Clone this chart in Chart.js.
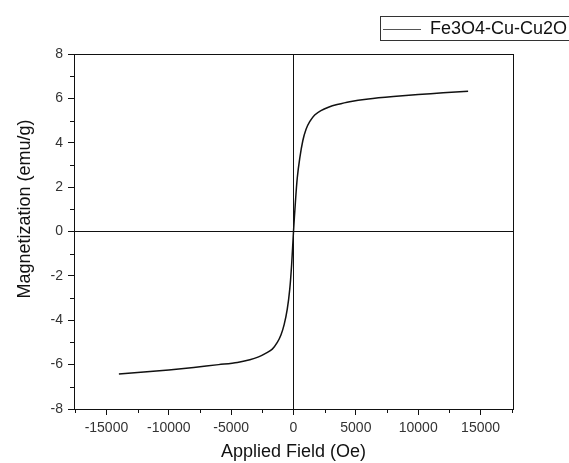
<!DOCTYPE html>
<html>
<head>
<meta charset="utf-8">
<script src="https://cdn.jsdelivr.net/npm/chart.js@4"></script>
<style>
  html, body { margin: 0; padding: 0; background: #fff; }
  #wrap { width: 569px; height: 463px; position: relative; }
</style>
</head>
<body>
<div id="wrap"><canvas id="chart"></canvas></div>
<script>
// Hysteresis loop data
const fieldOe = [-14000, -12000, -10000, -8000, -6000, -4500, -3500, -2800, -2200, -1700, -1300, -1000, -750, -500, -300, -150, 0,
                 150, 300, 500, 750, 1000, 1300, 1700, 2200, 2800, 3500, 4500, 6000, 8000, 10000, 12000, 14000];
const magnetization = [-6.42, -6.33, -6.24, -6.13, -6.0, -5.9, -5.78, -5.65, -5.48, -5.3, -5.0, -4.65, -4.2, -3.5, -2.6, -1.5, 0.0,
                       1.3, 2.4, 3.3, 4.1, 4.6, 4.95, 5.25, 5.45, 5.6, 5.72, 5.85, 5.97, 6.08, 6.17, 6.25, 6.32];
const xTicks = [-15000, -10000, -5000, 0, 5000, 10000, 15000];
const yTicks = [-8, -6, -4, -2, 0, 2, 4, 6, 8];
const seriesName = 'Fe3O4-Cu-Cu2O';

const FONT = '"Liberation Sans", Arial, sans-serif';

// Frame around plot, minor ticks, y title and the boxed legend
const framePlugin = {
    id: 'frame',
    afterDraw(chart) {
        const ctx = chart.ctx;
        const a = chart.chartArea;
        const xs = chart.scales.x;
        const ys = chart.scales.y;
        ctx.save();
        ctx.strokeStyle = '#111';
        ctx.lineWidth = 1;
        ctx.strokeRect(a.left + 0.5, a.top + 0.5, a.right - a.left, a.bottom - a.top);

        // minor ticks
        ctx.beginPath();
        for (let v = -17500; v <= 17500; v += 2500) {
            if (v % 5000 === 0) continue;
            const px = Math.round(xs.getPixelForValue(v)) + 0.5;
            ctx.moveTo(px, a.bottom);
            ctx.lineTo(px, a.bottom + 4);
        }
        for (let v = -7; v <= 7; v += 2) {
            const py = Math.round(ys.getPixelForValue(v)) + 0.5;
            ctx.moveTo(a.left, py);
            ctx.lineTo(a.left - 4, py);
        }
        ctx.stroke();

        // y axis title (sits a bit above the plot centre in the original)
        ctx.save();
        ctx.translate(25, 209);
        ctx.rotate(-Math.PI / 2);
        ctx.fillStyle = '#111';
        ctx.font = '18px ' + FONT;
        ctx.textAlign = 'center';
        ctx.textBaseline = 'middle';
        ctx.fillText('Magnetization (emu/g)', 0, 0);
        ctx.restore();

        // legend box
        ctx.strokeStyle = '#333';
        ctx.strokeRect(380.5, 16.5, 200, 24);
        ctx.strokeStyle = '#555';
        ctx.beginPath();
        ctx.moveTo(383, 29.5);
        ctx.lineTo(421, 29.5);
        ctx.stroke();
        ctx.fillStyle = '#111';
        ctx.font = '18px ' + FONT;
        ctx.textBaseline = 'middle';
        ctx.fillText(chart.data.datasets[0].label, 430, 29);
        ctx.restore();
    }
};

const chart = new Chart(document.getElementById('chart'), {
    type: 'scatter',
    data: {
        datasets: [{
            label: seriesName,
            data: fieldOe.map((f, i) => ({ x: f, y: magnetization[i] })),
            showLine: true,
            borderColor: '#111',
            borderWidth: 1.5,
            pointRadius: 0,
            tension: 0.3
        }]
    },
    options: {
        responsive: true,
        maintainAspectRatio: false,
        animation: false,
        layout: { padding: { top: 54, right: 56, left: 0, bottom: 0 } },
        plugins: {
            legend: { display: false },
            tooltip: { enabled: false }
        },
        scales: {
            x: {
                type: 'linear',
                min: -17600,
                max: 17600,
                afterBuildTicks: s => { s.ticks = xTicks.map(v => ({ value: v })); },
                afterFit: s => { s.height = 54; },
                border: { display: true, color: '#111', width: 1 },
                grid: {
                    drawOnChartArea: true,
                    color: c => (c.tick && c.tick.value === 0 ? '#111' : 'rgba(0,0,0,0)'),
                    tickColor: '#111',
                    tickLength: 6,
                    lineWidth: 1
                },
                ticks: {
                    color: '#333',
                    font: { family: FONT, size: 14 },
                    padding: 5,
                    maxRotation: 0,
                    callback: v => String(v)
                },
                title: {
                    display: true,
                    text: 'Applied Field (Oe)',
                    color: '#111',
                    font: { family: FONT, size: 18 },
                    padding: { top: 2, bottom: 0 }
                }
            },
            y: {
                type: 'linear',
                min: -8,
                max: 8,
                afterBuildTicks: s => { s.ticks = yTicks.map(v => ({ value: v })); },
                afterFit: s => { s.width = 74; },
                border: { display: true, color: '#111', width: 1 },
                grid: {
                    drawOnChartArea: true,
                    color: c => (c.tick && c.tick.value === 0 ? '#111' : 'rgba(0,0,0,0)'),
                    tickColor: '#111',
                    tickLength: 6,
                    lineWidth: 1
                },
                ticks: {
                    color: '#333',
                    font: { family: FONT, size: 14 },
                    padding: 5
                }
            }
        }
    },
    plugins: [framePlugin]
});
</script>
</body>
</html>
